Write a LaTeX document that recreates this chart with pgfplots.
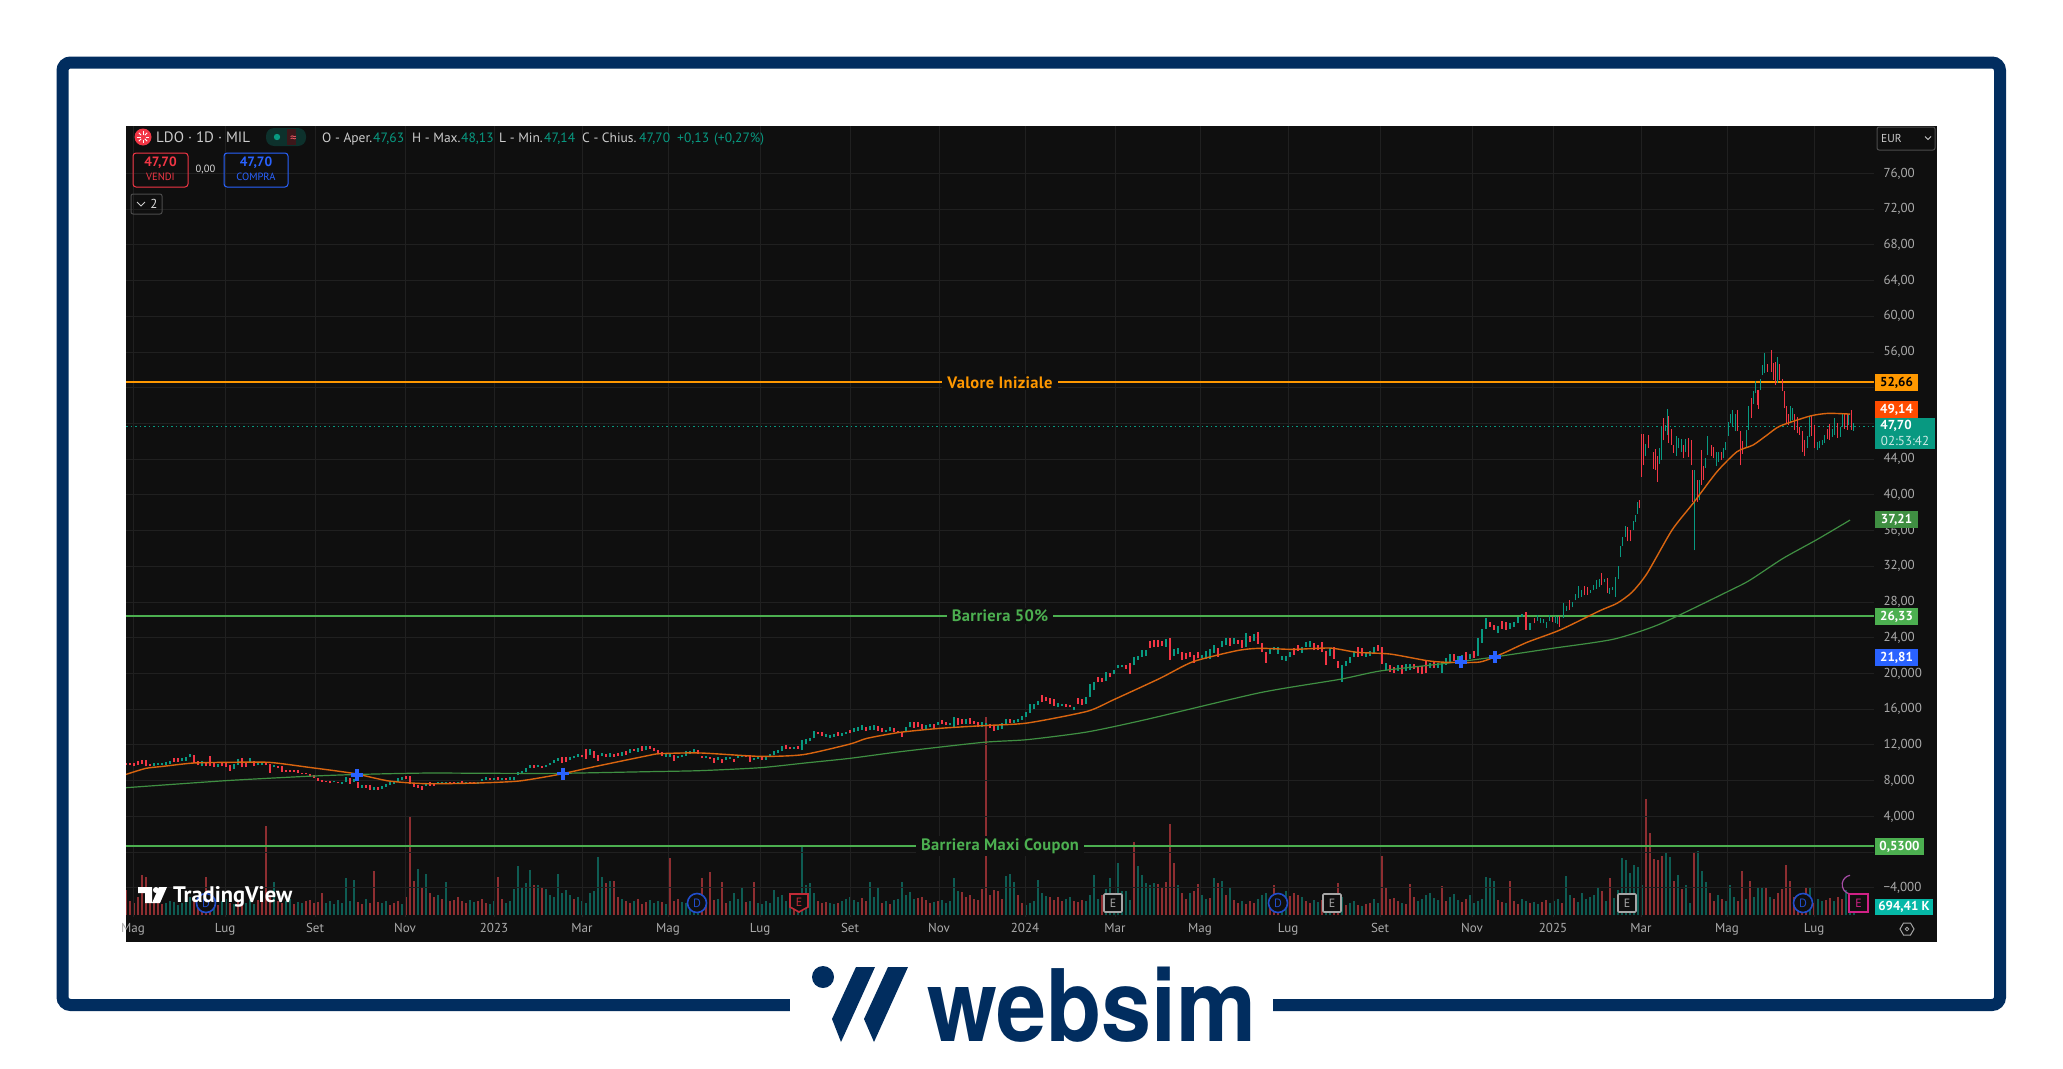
\documentclass[border=0pt]{standalone}
\usepackage{fontspec}
\setmainfont{PT Sans}
\newfontfamily\logofont{TeX Gyre Heros}
\newfontfamily\levelfont[LetterSpace=2,BoldFont={PT Sans Bold}]{PT Sans}
\usepackage{pgfplots}
\usepackage{pgfplotstable}
\pgfplotsset{compat=1.18}

\definecolor{panel}{HTML}{0F0F0F}
\definecolor{gridc}{HTML}{202020}
\definecolor{txt}{HTML}{ABABAB}
\definecolor{up}{HTML}{089981}
\definecolor{down}{HTML}{F23645}
\definecolor{volup}{HTML}{0E5C53}
\definecolor{voldown}{HTML}{8E2E31}
\definecolor{navy}{HTML}{012D5F}
\definecolor{levorange}{HTML}{FF9800}
\definecolor{levgreen}{HTML}{4CAF50}
\definecolor{maorange}{HTML}{D9650F}
\definecolor{magreen}{HTML}{3F8F42}
\definecolor{tvblue}{HTML}{2962FF}

\newcommand\fs[1]{\fontsize{#1}{#1}\selectfont}
\newcommand\txt[4]{\node[anchor=base west,inner sep=0pt,text=#3] at (#1,#2) {#4};}
\newcommand\pricebox[7]{\fill[#5] (#1,#2) rectangle (#3,#4);
  \node[text=#6,inner sep=0pt] at ({(#1+#3)/2},{(#2+#4)/2}) {\fs{13}\bfseries #7};}

% candles up to end of 2024, one every 4 px: low high up(1)/down(0)
\pgfplotstableread{
l h c
9.8 10.0 0
9.7 10.0 0
9.6 10.0 0
9.8 10.2 0
9.9 10.3 0
9.6 10.3 0
9.6 9.9 0
9.6 10.0 1
9.8 10.0 1
9.8 10.0 1
9.8 10.1 1
9.9 10.2 1
10.1 10.5 0
10.1 10.5 0
10.2 10.5 1
10.2 10.6 1
10.6 11.0 1
10.0 10.9 0
9.7 10.2 0
9.6 10.2 1
9.6 10.0 0
9.6 10.8 0
9.5 10.0 0
9.5 9.9 1
9.6 10.1 0
9.5 10.0 0
9.1 9.8 0
9.3 9.9 1
9.8 10.4 1
9.5 10.5 0
9.5 10.0 0
10.0 10.5 1
9.6 10.2 0
9.7 10.0 1
9.7 10.0 1
9.7 10.0 0
8.9 9.9 0
9.5 9.8 1
9.4 9.6 0
9.0 9.6 0
9.0 9.2 0
9.0 9.2 0
9.0 9.2 0
8.9 9.2 0
8.7 8.9 0
8.7 8.9 0
8.5 8.7 0
8.3 8.6 0
8.0 8.3 0
7.9 8.1 0
7.9 8.0 0
7.7 8.0 0
7.8 8.0 1
7.7 7.9 0
7.6 7.9 1
7.8 8.4 1
7.6 8.3 0
7.9 8.2 1
7.2 7.8 0
7.2 7.5 1
7.2 7.5 0
7.0 7.5 0
7.0 7.3 1
7.0 7.3 0
7.1 7.4 1
7.3 7.6 1
7.5 7.9 1
7.6 7.9 1
7.9 8.3 1
8.1 8.4 1
8.2 8.5 0
7.6 8.5 0
7.3 7.7 0
7.2 7.5 0
7.0 7.4 0
7.4 7.7 1
7.4 7.8 0
7.4 7.7 0
7.6 7.8 1
7.6 7.9 1
7.6 7.9 1
7.6 7.8 0
7.6 7.9 0
7.6 7.9 1
7.6 8.0 0
7.6 7.8 1
7.6 7.9 0
7.7 7.9 0
7.6 7.9 1
8.0 8.2 1
8.1 8.4 1
8.1 8.3 0
8.1 8.3 1
8.1 8.4 0
8.1 8.3 1
8.1 8.3 0
8.1 8.4 1
8.1 8.4 1
8.6 9.0 1
8.8 9.1 1
9.0 9.4 1
9.4 9.8 1
9.4 9.7 0
9.5 9.7 1
9.4 9.6 0
9.5 9.8 1
9.7 10.0 1
10.0 10.3 1
10.2 10.5 1
10.0 10.6 0
10.1 10.6 0
10.3 10.6 1
10.5 10.8 1
10.7 11.0 1
10.6 10.9 0
10.4 11.5 0
10.9 11.6 1
10.5 11.3 0
10.2 10.9 0
10.8 11.1 1
10.6 11.0 0
10.7 11.1 1
10.7 11.0 0
10.8 11.1 0
10.8 11.2 1
10.9 11.3 0
11.1 11.6 1
11.3 11.6 0
11.2 11.7 1
11.3 11.9 0
11.4 11.9 1
11.6 11.9 0
11.3 11.7 0
11.0 11.4 0
10.8 11.2 0
10.7 11.1 1
10.6 11.1 1
10.2 10.9 0
10.5 10.8 1
10.6 10.9 1
10.8 11.3 1
11.0 11.3 1
11.2 11.5 1
11.0 11.4 0
10.5 10.8 0
10.5 10.8 1
10.4 10.7 0
10.0 10.5 0
10.3 10.6 1
10.0 10.4 0
10.3 10.6 1
10.4 10.7 1
10.1 10.4 0
10.5 10.9 1
10.6 10.9 1
10.6 10.8 0
10.1 10.9 0
10.3 10.5 1
10.4 10.6 1
10.3 10.6 0
10.3 10.6 1
10.6 11.0 1
10.9 11.3 1
11.1 11.4 1
11.3 11.9 1
11.5 12.0 0
11.5 11.8 0
11.6 11.8 1
11.6 11.9 0
11.4 12.5 1
12.1 12.7 1
12.4 12.8 1
12.8 13.6 1
13.2 13.5 0
13.0 13.4 0
12.9 13.2 1
12.8 13.1 1
12.9 13.2 1
13.0 13.4 0
13.0 13.3 1
13.2 13.5 1
13.3 13.7 0
13.4 13.9 1
13.6 14.0 1
13.7 14.2 1
13.6 14.0 0
13.7 14.1 1
13.7 14.2 1
13.6 14.1 0
13.4 13.9 0
13.4 13.7 1
13.6 14.0 1
13.5 13.9 0
13.3 13.6 0
12.9 13.4 0
13.4 14.0 1
14.0 14.6 1
13.9 14.6 0
14.0 14.6 0
13.8 14.4 0
13.8 14.2 1
14.0 14.4 1
13.9 14.3 0
14.2 14.6 1
14.3 14.8 0
14.2 14.6 0
14.2 14.5 1
14.0 15.1 1
14.2 15.0 0
14.3 14.9 0
14.4 14.9 1
14.3 15.0 0
14.3 14.7 0
14.0 14.6 0
14.0 14.6 1
14.1 14.5 1
13.9 14.3 0
13.6 14.1 0
13.7 14.2 1
13.8 14.5 1
14.4 14.9 1
14.5 14.9 0
14.5 14.8 1
14.6 14.9 1
14.8 15.2 1
15.1 15.7 1
15.6 16.6 1
16.0 16.6 1
16.5 16.9 1
16.8 17.6 0
16.9 17.4 0
16.6 17.2 0
16.4 17.1 0
16.2 16.7 1
16.4 16.6 1
16.2 16.6 0
16.2 16.5 0
15.9 16.3 1
16.6 17.2 0
16.5 17.1 0
16.6 17.4 1
17.4 18.8 1
18.2 19.1 1
19.0 19.6 0
19.1 19.5 0
19.2 20.2 1
19.6 20.0 0
19.9 20.4 1
20.6 21.0 1
20.7 21.0 1
20.5 20.9 0
19.9 21.2 0
20.9 21.9 1
21.5 22.0 1
21.9 22.6 1
22.0 22.6 1
22.9 23.6 0
23.0 23.7 0
23.0 23.7 0
23.1 23.6 0
23.0 23.9 1
21.5 24.0 0
22.0 22.7 1
22.2 22.8 1
21.5 22.4 0
21.6 22.3 0
21.8 22.4 0
21.2 22.1 0
21.7 22.4 0
21.7 22.1 1
21.6 22.5 1
21.6 22.7 1
22.3 23.2 1
21.9 22.8 0
23.0 23.6 1
23.2 24.0 1
23.1 24.0 0
23.3 24.0 1
23.3 23.7 0
22.8 23.7 0
23.0 24.5 1
23.5 24.2 0
23.6 24.4 1
23.3 24.6 0
22.4 23.4 0
21.2 22.4 0
22.2 22.9 1
22.6 23.0 1
22.2 23.0 1
21.5 22.0 1
21.4 22.0 1
21.8 22.4 1
22.1 22.9 0
22.5 23.2 0
22.3 23.0 1
23.0 23.5 1
23.0 23.6 1
22.6 23.4 0
22.6 23.2 0
22.4 23.5 0
21.0 22.5 0
22.0 22.9 1
21.6 23.0 0
20.6 21.4 0
19.1 21.0 1
20.8 21.4 1
21.2 21.8 1
21.9 22.5 1
21.9 23.0 0
22.0 22.8 0
21.9 22.4 1
22.0 22.5 1
22.2 23.0 1
22.5 23.2 0
21.1 23.0 0
20.4 21.2 1
20.2 20.9 0
20.1 20.7 0
20.3 21.0 1
19.9 20.9 0
20.3 21.1 1
20.4 21.1 1
20.5 21.1 0
20.0 20.8 0
19.9 20.8 0
20.0 21.4 0
20.6 21.2 1
20.6 21.3 0
20.6 21.2 1
20.1 21.3 1
21.0 21.7 1
21.2 22.2 1
21.4 22.2 0
21.5 22.0 1
21.3 22.1 1
21.5 22.4 0
21.6 22.2 1
21.7 22.5 0
22.0 24.0 1
23.4 25.0 1
25.0 26.2 1
25.2 25.8 0
24.9 25.4 0
24.5 25.3 1
25.0 25.9 0
24.9 25.8 0
25.0 25.6 1
25.2 25.8 1
25.7 26.3 1
26.3 26.7 1
24.9 26.9 0
24.9 25.6 1
}\candlesA

% last months, finer: x low high up/down
\pgfplotstableread{
x l h c
1534 25.6 26.2 0
1537 25.9 26.5 1
1540 25.6 26.2 1
1543 25.6 26.1 1
1546 25.1 25.8 1
1549 25.9 26.5 1
1552 25.8 26.3 0
1555 25.7 26.4 1
1557 25.5 26.3 1
1559 25.2 26.4 0
1563 26.2 27.9 1
1566 27.0 27.6 1
1569 27.1 28.2 0
1572 27.4 28.0 1
1575 28.2 28.9 1
1578 28.5 29.8 1
1581 28.6 29.4 1
1584 28.8 29.8 0
1587 28.8 29.7 0
1590 29.0 29.4 1
1593 29.3 29.9 1
1596 29.5 30.5 1
1599 29.7 30.6 1
1601 29.9 31.2 0
1604 30.2 30.6 1
1607 29.0 30.7 0
1609 28.9 29.6 1
1612 29.4 29.7 1
1615 28.6 30.8 1
1618 30.6 32.0 1
1620 33.0 34.3 1
1622 34.3 35.3 1
1625 35.3 36.5 1
1627 34.8 36.4 0
1630 34.8 36.1 0
1633 36.1 37.1 1
1635 37.0 37.7 1
1637 37.9 39.2 1
1639 38.5 39.4 0
1641 42.0 46.8 0
1643 43.3 46.8 0
1645 44.4 45.7 1
1648 45.2 46.7 0
1653 42.9 44.8 0
1655 42.8 45.1 0
1657 41.5 44.3 0
1659 43.5 45.2 1
1661 43.9 47.6 1
1663 46.1 48.6 0
1665 47.1 47.8 1
1667 46.7 49.6 1
1668 45.8 48.8 0
1671 45.6 47.4 0
1673 44.7 45.6 0
1676 44.4 46.6 1
1678 45.2 46.4 1
1681 44.8 46.3 1
1683 44.1 45.6 0
1685 44.8 46.3 1
1688 44.2 46.4 0
1691 43.3 46.1 0
1692 39.2 42.8 0
1694 33.8 42.8 1
1697 39.2 41.7 0
1699 39.4 41.7 1
1701 41.1 45.0 0
1703 41.7 43.2 0
1705 43.0 44.1 1
1707 44.5 46.6 1
1711 44.4 45.6 0
1713 44.1 45.4 0
1716 43.2 44.8 1
1718 43.7 44.8 1
1721 43.9 44.8 0
1723 44.1 45.2 1
1725 45.0 45.9 1
1728 46.6 48.2 1
1730 48.0 49.1 1
1732 47.6 49.5 1
1735 47.1 49.1 1
1737 47.1 49.5 0
1740 43.3 47.1 0
1742 44.6 46.0 0
1746 45.4 47.3 1
1748 47.3 49.9 1
1751 48.6 50.8 0
1753 50.2 51.6 1
1755 51.4 52.7 1
1757 50.1 51.8 0
1758 49.6 51.8 0
1760 51.7 53.0 1
1762 53.4 54.5 1
1764 53.6 55.9 1
1767 53.8 54.7 0
1771 53.8 56.2 0
1773 52.9 54.8 0
1775 52.3 54.9 0
1777 52.5 55.4 1
1779 52.9 54.7 0
1782 51.6 53.0 0
1784 49.7 51.6 0
1786 48.0 49.9 0
1788 47.8 49.1 0
1790 48.2 50.0 1
1792 48.4 49.7 1
1794 47.3 49.1 0
1797 46.9 48.7 0
1799 46.7 47.6 0
1802 44.8 47.1 0
1804 44.3 46.1 0
1807 45.2 46.6 1
1809 46.5 48.8 1
1811 46.6 48.8 0
1814 45.2 47.8 0
1817 45.0 45.9 1
1819 45.2 46.0 1
1822 45.6 46.1 1
1824 45.8 46.7 1
1827 46.3 47.4 0
1829 46.2 47.9 0
1832 46.5 47.4 1
1834 46.7 48.6 1
1837 46.4 48.0 0
1840 46.5 47.6 1
1842 47.6 49.2 1
1844 47.4 49.1 0
1847 47.3 49.1 0
1848 47.8 49.1 1
1851 47.3 49.5 0
1853 47.2 48.1 1
}\candlesB

% volume every 4 px, hundreds of thousands; negative = down day
\pgfplotstableread{
v
-25
-14
-12
-18
-40
-38
-16
-12
-14
-11
12
14
13
10
12
15
18
-14
-12
-11
-38
-12
13
-10
14
16
-12
11
-13
-14
12
15
11
-15
-16
-89
-20
33
-14
-12
14
16
-11
13
12
-14
-15
-12
-13
-22
12
14
11
15
12
37
14
35
-13
-11
16
-12
-44
-13
12
14
-10
-12
-14
11
-18
-99
-34
46
-28
41
-22
-18
20
-16
33
-14
-15
-18
-14
-12
15
13
-14
-16
-12
11
14
-38
-16
12
14
26
49
28
32
45
-30
30
-28
26
20
18
41
22
25
20
-16
18
14
12
22
24
58
38
-32
34
-34
-18
16
-14
-12
14
-16
-11
-13
15
12
14
-13
11
-57
-14
-16
13
12
14
20
11
-37
-13
-43
-15
16
-33
-12
14
22
16
28
-13
14
-33
12
11
14
12
25
18
20
14
16
-12
13
68
30
32
22
-14
-12
-13
12
11
-12
14
16
18
15
13
-17
-14
33
18
27
-12
14
-11
15
16
33
20
23
16
-17
-18
-15
-12
13
-14
15
12
14
37
24
-23
-18
-20
-16
-15
-26
-198
-20
-25
-24
-16
39
41
33
-20
-12
10
12
14
35
22
19
-18
-15
-18
-14
16
18
-14
-13
-15
14
20
40
16
-20
26
37
18
52
24
24
15
-73
49
40
32
30
32
-31
-28
-33
-91
-52
30
-22
-16
22
-24
-31
20
16
-17
37
-32
34
-20
27
-15
-12
14
-11
-14
-12
16
20
22
-14
-30
-15
16
24
-19
-22
-20
18
-14
-12
15
13
-15
16
14
-13
-32
18
-10
12
14
-10
9
-11
-12
16
12
-59
-28
-16
-17
-14
12
-11
-31
-18
14
16
20
22
17
15
-29
-14
18
21
15
-13
-16
20
12
14
16
38
37
34
-15
-13
12
-34
-14
-11
16
14
-12
13
11
-13
-15
12
14
16
-12
39
20
-17
13
22
16
18
20
28
-24
14
-37
17
25
57
55
42
50
48
30
-116
-82
-56
-55
-59
63
58
-34
40
-26
30
12
-62
64
44
33
-22
-14
20
-16
14
30
18
-14
-44
16
-34
18
28
28
-28
18
-16
-22
-26
-50
-34
-18
-14
-16
-27
27
-12
16
14
-15
-17
14
-18
-16
25
12
3
}\volumes

\begin{document}
\begin{tikzpicture}[x=1pt,y=-1pt]
\fill[white] (0,0) rectangle (2063,1068);
\fill[panel] (126,126) rectangle (1937,942);

% volume pane, sharing the bottom of the chart
\begin{axis}[
  at={(126pt,-915pt)},anchor=south west,
  width=1748pt,height=789pt,scale only axis,
  hide axis,
  xmin=126,xmax=1874,ymin=0,ymax=789,
]
\addplot[ycomb,volup,line width=1.4pt,no markers,y filter/.expression={y>0 ? y : nan}]
  table[x expr=126+4*\coordindex,y=v] {\volumes};
\addplot[ycomb,voldown,line width=1.4pt,no markers,y filter/.expression={y<0 ? -y : nan}]
  table[x expr=126+4*\coordindex,y=v] {\volumes};
\end{axis}

\begin{axis}[
  at={(126pt,-917pt)},anchor=south west,
  width=1748pt,height=791pt,scale only axis,
  xmin=126,xmax=1874,ymin=-7.27,ymax=81.31,
  clip mode=individual,
  axis line style={draw=none},
  major tick length=0pt,
  grid=major,
  grid style={gridc,line width=0.9pt},
  ytick pos=right,yticklabel pos=right,
  ytick={-4,0,4,...,76},
  yticklabels={{−4,000},{},{4,000},{8,000},{12,000},{16,000},{20,000},{24,00},{28,00},{32,00},{36,00},{40,00},{44,00},{},{},{56,00},{60,00},{64,00},{68,00},{72,00},{76,00}},
  xtick={133,225,315,405,494,582,668,760,850,939,1025,1115,1200,1288,1380,1472,1553,1641,1727,1814},
  xticklabels={Mag,Lug,Set,Nov,2023,Mar,Mag,Lug,Set,Nov,2024,Mar,Mag,Lug,Set,Nov,2025,Mar,Mag,Lug},
  tick label style={font=\fs{13},text=txt},
  y tick label style={anchor=west,xshift=6pt},
  x tick label style={yshift=-3pt},
]
% level lines
\addplot[levorange,line width=2pt,no markers] coordinates {(126,52.6) (1874,52.6)};
\addplot[levgreen,line width=2pt,no markers] coordinates {(126,26.42) (1874,26.42)};
\addplot[levgreen,line width=2pt,no markers] coordinates {(126,0.68) (1874,0.68)};
\addplot[up,line width=1pt,dash pattern=on 1.5pt off 3pt,no markers] coordinates {(126,47.68) (1874,47.68)};

% candles, drawn as high-low sticks
\addplot[draw=none,no markers,error bars/.cd,y dir=plus,y explicit,error mark=none,
    error bar style={up,line width=1.4pt}]
  table[x expr=126+4*\coordindex,y expr=\thisrow{c}>0 ? \thisrow{l} : nan,y error plus expr=\thisrow{h}-\thisrow{l}] {\candlesA};
\addplot[draw=none,no markers,error bars/.cd,y dir=plus,y explicit,error mark=none,
    error bar style={down,line width=1.4pt}]
  table[x expr=126+4*\coordindex,y expr=\thisrow{c}<1 ? \thisrow{l} : nan,y error plus expr=\thisrow{h}-\thisrow{l}] {\candlesA};
\addplot[draw=none,no markers,error bars/.cd,y dir=plus,y explicit,error mark=none,
    error bar style={up,line width=1pt}]
  table[x=x,y expr=\thisrow{c}>0 ? \thisrow{l} : nan,y error plus expr=\thisrow{h}-\thisrow{l}] {\candlesB};
\addplot[draw=none,no markers,error bars/.cd,y dir=plus,y explicit,error mark=none,
    error bar style={down,line width=1pt}]
  table[x=x,y expr=\thisrow{c}<1 ? \thisrow{l} : nan,y error plus expr=\thisrow{h}-\thisrow{l}] {\candlesB};

% 200 day
\addplot[magreen,line width=1.2pt,no markers,smooth,tension=0.4] coordinates {
(126,7.21) (226,8.0) (306,8.48) (359,8.7) (426,8.85) (493,8.82) (559,8.82) (646,9.0) (700,9.12)
(760,9.45) (807,10) (850,10.5) (900,11.24) (983,12.29) (1027,12.59) (1087,13.45) (1147,14.87)
(1260,17.85) (1340,19.35) (1380,20.28) (1440,21.06) (1487,21.73) (1550,22.78) (1613,23.83)
(1660,25.54) (1730,29.3) (1750,30.46) (1783,32.89) (1817,35) (1850,37.18)};
% 50 day
\addplot[maorange,line width=1.4pt,no markers,smooth,tension=0.4] coordinates {
(126,8.7) (146,9.38) (163,9.6) (193,9.97) (226,10.05) (269,10.05) (309,9.49) (353,8.82) (389,7.96)
(426,7.66) (476,7.73) (519,7.96) (559,8.7) (593,9.53) (646,10.76) (660,11.02) (700,11.1) (760,10.72)
(803,10.91) (850,12.1) (867,12.74) (900,13.41) (940,13.86) (983,14.16) (1027,14.45) (1087,15.76)
(1113,17.03) (1160,19.46) (1193,21.32) (1237,22.56) (1260,22.82) (1293,22.7) (1330,22.85) (1357,22.37)
(1390,22.18) (1427,21.44) (1447,21.25) (1480,21.29) (1503,22.26) (1527,23.49) (1560,24.87) (1600,27.04)
(1617,27.86) (1632,29.1) (1647,31.2) (1672,36.06) (1693,39.05) (1717,42.6) (1737,44.84) (1753,45.58)
(1767,46.7) (1780,47.71) (1810,48.83) (1828,49.13) (1850,49.05)};
% crossings
\addplot[only marks,mark=+,mark size=6pt,tvblue,line width=3.6pt] coordinates {(357,8.63) (563,8.78) (1461,21.29) (1495,21.85)};

\node[fill=panel,text=levorange,inner xsep=5pt,inner ysep=2pt] at (axis cs:1000,52.6) {\levelfont\fs{16.5}\bfseries Valore Iniziale};
\node[fill=panel,text=levgreen,inner xsep=5pt,inner ysep=2pt] at (axis cs:1000,26.42) {\levelfont\fs{16.5}\bfseries Barriera 50\%};
\node[fill=panel,text=levgreen,inner xsep=5pt,inner ysep=2pt] at (axis cs:1000,0.68) {\levelfont\fs{16.5}\bfseries Barriera Maxi Coupon};
\end{axis}

% frame and logo
\draw[navy,line width=12pt,rounded corners=8pt] (62.5,62.5) rectangle (2000,1005);
\fill[white] (790,990) rectangle (1273,1020);
\fill[navy] (823,977) circle (11);
\fill[navy] (856,967) -- (875,967) -- (841,1042) -- (832,1019) -- cycle;
\fill[navy] (888,967) -- (908,967) -- (874,1042) -- (864,1019) -- cycle;
\node[anchor=base west,inner sep=0pt,text=navy,xscale=0.9,transform shape] at (927,1041) {\logofont\fs{100}\bfseries websim};

% header
\fill[down] (143,137) circle (8.5);
\foreach \a in {0,45,...,315} \draw[white,line width=0.8pt] (143,137) ++(\a:2.5) -- ++(\a:3.5);
\txt{156}{142}{white!80!black}{\fs{15}LDO · 1D · MIL}
\fill[up!25!panel,rounded corners=8pt] (266,128) rectangle (306,146);
\fill[down!20!panel] (287,129) rectangle (296,145);
\fill[up] (277,137) circle (3.2);
\txt{290}{142}{down!80!white}{\fs{13}≈}
\begin{scope}[font=\fs{13.5}]
\txt{322}{142}{white!80!black}{O - Aper.}
\txt{373}{142}{up}{47,63}
\txt{412}{142}{white!80!black}{H - Max.}
\txt{461}{142}{up}{48,13}
\txt{499}{142}{white!80!black}{L - Min.}
\txt{544}{142}{up}{47,14}
\txt{582}{142}{white!80!black}{C - Chius.}
\txt{639}{142}{up}{47,70}
\txt{677}{142}{up}{+0,13}
\txt{714}{142}{up}{(+0,27\%)}
\end{scope}
\draw[down,line width=1pt,rounded corners=3pt] (133,153) rectangle (188,187);
\node[text=down,inner sep=0pt] at (160.5,163) {\fs{13.5}\bfseries 47,70};
\node[text=down,inner sep=0pt] at (160.5,177) {\fs{10.5}VENDI};
\draw[tvblue,line width=1pt,rounded corners=3pt] (224,153) rectangle (288,187);
\node[text=tvblue,inner sep=0pt] at (256,163) {\fs{13.5}\bfseries 47,70};
\node[text=tvblue,inner sep=0pt] at (256,177) {\fs{10.5}COMPRA};
\node[text=white!85!black,inner sep=0pt] at (205.5,170) {\fs{10.5}0,00};
\draw[white!25!panel,line width=1pt,rounded corners=2pt] (131,194) rectangle (162,214);
\draw[white!80!black,line width=0.8pt] (137,202) -- (141,206) -- (145,202);
\node[text=white!85!black,inner sep=0pt] at (154,204) {\fs{13}2};
\draw[white!25!panel,line width=1pt,rounded corners=2pt] (1877,127) rectangle (1935,150);
\node[text=white!80!black,anchor=west,inner sep=0pt] at (1881,138) {\fs{11.5}EUR};
\draw[white!80!black,line width=0.8pt] (1925,136.5) -- (1928,139.5) -- (1931,136.5);

% markers on the time row
\foreach \x in {206,697,1278,1803} {
  \draw[tvblue!80!black,line width=1.6pt,fill=panel] (\x,903) circle (9.5);
  \node[text=tvblue!80!black,inner sep=0pt] at (\x,903) {\fs{12}D};
}
\draw[down!80!black,line width=1.6pt,fill=panel] (790,894) -- (808,894) -- (808,907) -- (799,912) -- (790,907) -- cycle;
\node[text=down!80!black,inner sep=0pt] at (799,902) {\fs{12}E};
\foreach \x in {1113,1332,1627} {
  \draw[white!65!black,line width=1.6pt,fill=panel,rounded corners=1pt] (\x-9,894) rectangle (\x+9,912);
  \node[text=white!65!black,inner sep=0pt] at (\x,903) {\fs{12}E};
}
\draw[violet!70!white,line width=1.2pt] (1850,894) arc (100:260:9.5);
\draw[magenta!70!violet,line width=1.6pt,fill=panel] (1849,894) rectangle (1868,912);
\node[text=magenta!70!violet,inner sep=0pt] at (1858.5,903) {\fs{12}E};

% TradingView watermark
\fill[white] (138,887) -- (152,887) -- (152,903) -- (145,903) -- (145,893) -- (138,893) -- cycle;
\fill[white] (156,890) circle (3);
\fill[white] (159,887) -- (167,887) -- (160,903) -- (152,903) -- cycle;
\node[anchor=west,inner sep=0pt,text=white] at (173,897) {\fs{22.5}\bfseries TradingView};

% price scale boxes
\pricebox{1875}{374}{1918}{391}{levorange}{black}{52,66}
\pricebox{1875}{401}{1918}{418}{orange!60!red}{white}{49,14}
\fill[up] (1875,418) rectangle (1935,449);
\node[text=white,inner sep=0pt] at (1896,426) {\fs{13}\bfseries 47,70};
\node[text=white!80!up,inner sep=0pt] at (1905,441) {\fs{13}02:53:42};
\pricebox{1875}{511}{1918}{528}{magreen}{white}{37,21}
\pricebox{1875}{608}{1918}{625}{levgreen}{white}{26,33}
\pricebox{1875}{649}{1918}{666}{tvblue}{white}{21,81}
\pricebox{1875}{838}{1924}{855}{levgreen}{white}{0,5300}
\pricebox{1875}{899}{1933}{915}{up!70!cyan}{white}{694,41 K}
% settings icon
\draw[white!65!black,line width=1pt] (1900,929) -- (1903.5,923) -- (1910.5,923) -- (1914,929) -- (1910.5,935) -- (1903.5,935) -- cycle;
\draw[white!65!black,line width=0.8pt] (1907,929) circle (1.8);
\end{tikzpicture}
\end{document}
